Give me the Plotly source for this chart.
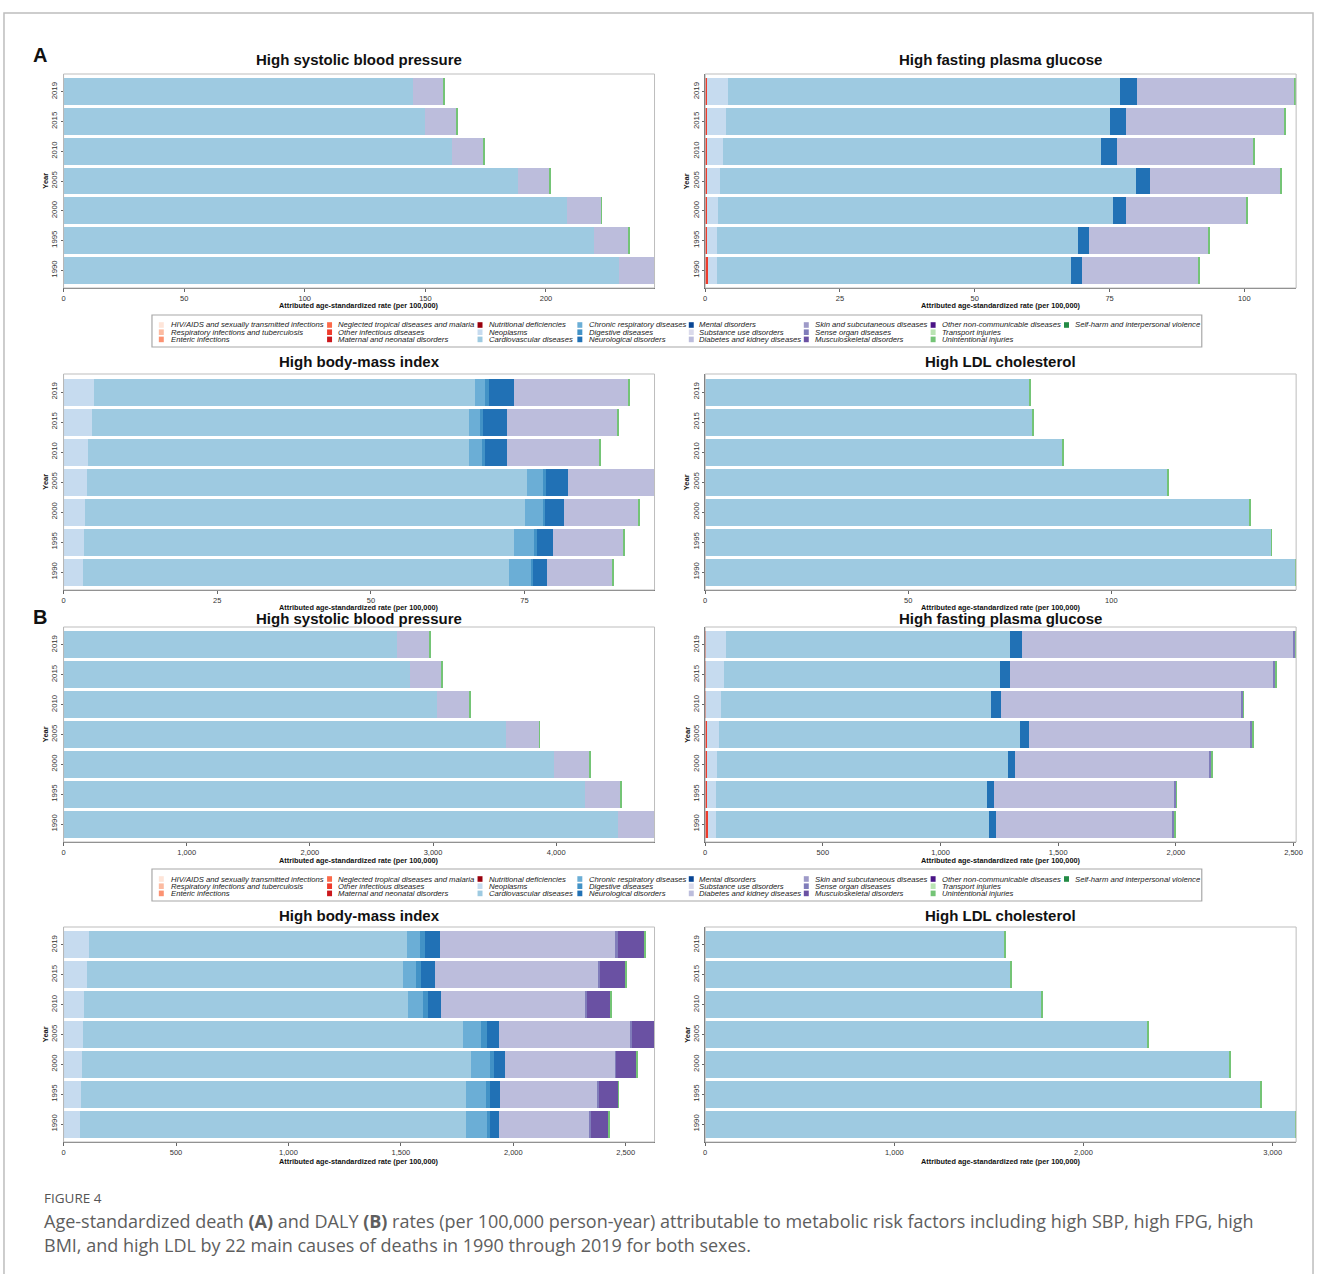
import plotly.graph_objects as go

W, H = 1322, 1274
FONT = "Liberation Sans, Arial, sans-serif"

YEARS = ["1990", "1995", "2000", "2005", "2010", "2015", "2019"]

CAUSES = [
    "HIV/AIDS and sexually transmitted infections",
    "Respiratory infections and tuberculosis",
    "Enteric infections",
    "Neglected tropical diseases and malaria",
    "Other infectious diseases",
    "Maternal and neonatal disorders",
    "Nutritional deficiencies",
    "Neoplasms",
    "Cardiovascular diseases",
    "Chronic respiratory diseases",
    "Digestive diseases",
    "Neurological disorders",
    "Mental disorders",
    "Substance use disorders",
    "Diabetes and kidney diseases",
    "Skin and subcutaneous diseases",
    "Sense organ diseases",
    "Musculoskeletal disorders",
    "Other non-communicable diseases",
    "Transport injuries",
    "Unintentional injuries",
    "Self-harm and interpersonal violence",
]
CAUSE_COLORS = [
    "#FEE5D9", "#FCBBA1", "#FC9272", "#FB6A4A", "#EF3B2C", "#CB181D", "#99000D",
    "#C6DBEF", "#9ECAE1", "#6BAED6", "#4292C6", "#2171B5", "#084594",
    "#DADAEB", "#BCBDDC", "#9E9AC8", "#807DBA", "#6A51A3", "#4A1486",
    "#BAE4B3", "#74C476", "#238B45",
]

# ---- (A) deaths, per 100,000 ; years 1990..2019 ----
sbp_death_cvd = [230.4, 220.0, 208.6, 188.4, 161.0, 150.0, 145.0]
sbp_death_diab = [14.3, 14.2, 14.1, 12.9, 13.1, 12.7, 12.5]
sbp_death_unint = [0.3, 0.3, 0.3, 0.3, 0.3, 0.3, 0.3]

fpg_death_infect = [0.5, 0.4, 0.35, 0.3, 0.3, 0.25, 0.25]
fpg_death_neo = [1.7, 1.8, 2.05, 2.5, 3.0, 3.65, 4.05]
fpg_death_cvd = [65.7, 66.9, 73.3, 77.1, 70.2, 71.2, 72.7]
fpg_death_neuro = [1.9, 2.0, 2.4, 2.6, 2.8, 3.0, 3.1]
fpg_death_diab = [21.7, 22.2, 22.3, 24.3, 25.5, 29.4, 29.3]
fpg_death_unint = [0.2, 0.2, 0.2, 0.2, 0.2, 0.2, 0.2]

bmi_death_neo = [3.1, 3.3, 3.55, 3.75, 4.0, 4.6, 4.96]
bmi_death_cvd = [69.4, 70.0, 71.55, 71.65, 61.9, 61.3, 61.94]
bmi_death_chresp = [3.5, 3.2, 2.9, 2.6, 2.1, 1.8, 1.7]
bmi_death_digest = [0.3, 0.5, 0.4, 0.5, 0.5, 0.5, 0.6]
bmi_death_neuro = [2.4, 2.6, 3.0, 3.5, 3.7, 4.0, 4.1]
bmi_death_diab = [10.6, 11.5, 12.1, 14.0, 14.9, 17.9, 18.5]
bmi_death_unint = [0.15, 0.15, 0.15, 0.15, 0.15, 0.15, 0.15]

ldl_death_cvd = [145.3, 139.4, 134.0, 113.9, 88.0, 80.7, 80.0]
ldl_death_unint = [0.2, 0.2, 0.2, 0.2, 0.2, 0.2, 0.2]

# ---- (B) DALYs, per 100,000 ----
sbp_daly_cvd = [4500, 4234, 3984, 3589, 3032, 2815, 2710]
sbp_daly_diab = [293, 285, 285, 269, 261, 253, 261]
sbp_daly_unint = [5, 5, 5, 5, 5, 5, 5]

fpg_daly_infect = [10, 8, 7, 6, 5, 5, 5]
fpg_daly_neo = [36, 38, 44, 54, 63, 75, 84]
fpg_daly_cvd = [1162, 1152, 1236, 1278, 1147, 1172, 1208]
fpg_daly_neuro = [27, 29, 30, 36, 41, 45, 48]
fpg_daly_diab = [750, 763, 825, 940, 1019, 1114, 1153]
fpg_daly_sense = [12, 12, 10, 12, 12, 14, 12]
fpg_daly_unint = [3, 3, 3, 3, 3, 3, 1]

bmi_daly_neo = [75, 79, 81, 86, 92, 104, 114]
bmi_daly_cvd = [1716, 1712, 1730, 1690, 1440, 1406, 1415]
bmi_daly_chresp = [91, 86, 84, 79, 66, 59, 57]
bmi_daly_digest = [15, 18, 19, 26, 24, 22, 22]
bmi_daly_neuro = [39, 44, 47, 55, 57, 59, 64]
bmi_daly_diab = [401, 433, 490, 581, 638, 727, 782]
bmi_daly_sense = [7, 7, 5, 9, 9, 10, 10]
bmi_daly_musc = [79, 85, 90, 99, 106, 111, 119]
bmi_daly_unint = [3, 3, 3, 3, 3, 3, 3]

ldl_daly_cvd = [3120, 2937, 2774, 2339, 1778, 1615, 1584]
ldl_daly_unint = [4, 4, 4, 4, 4, 4, 4]

# ---- tick values per panel ----
ticks_sbp_death = [0, 50, 100, 150, 200]
ticks_fpg_death = [0, 25, 50, 75, 100]
ticks_bmi_death = [0, 25, 50, 75]
ticks_ldl_death = [0, 50, 100]
ticks_sbp_daly = [0, 1000, 2000, 3000, 4000]
ticks_fpg_daly = [0, 500, 1000, 1500, 2000, 2500]
ticks_bmi_daly = [0, 500, 1000, 1500, 2000, 2500]
ticks_ldl_daly = [0, 1000, 2000, 3000]

# panel boxes in pixels: (left, top, right, bottom)
LEFT_COL = (62, 657)
RIGHT_COL = (708, 1303)
ROWS = [(74, 288), (374, 590), (627, 842), (927, 1142)]
TITLE_Y = [59, 361, 618, 915]
XTITLE_Y = [305, 607, 860, 1161]

panels = [
    ("High systolic blood pressure", LEFT_COL, 0, ticks_sbp_death,
     [("Cardiovascular diseases", sbp_death_cvd),
      ("Diabetes and kidney diseases", sbp_death_diab),
      ("Unintentional injuries", sbp_death_unint)]),
    ("High fasting plasma glucose", RIGHT_COL, 0, ticks_fpg_death,
     [("Other infectious diseases", fpg_death_infect),
      ("Neoplasms", fpg_death_neo),
      ("Cardiovascular diseases", fpg_death_cvd),
      ("Neurological disorders", fpg_death_neuro),
      ("Diabetes and kidney diseases", fpg_death_diab),
      ("Unintentional injuries", fpg_death_unint)]),
    ("High body-mass index", LEFT_COL, 1, ticks_bmi_death,
     [("Neoplasms", bmi_death_neo),
      ("Cardiovascular diseases", bmi_death_cvd),
      ("Chronic respiratory diseases", bmi_death_chresp),
      ("Digestive diseases", bmi_death_digest),
      ("Neurological disorders", bmi_death_neuro),
      ("Diabetes and kidney diseases", bmi_death_diab),
      ("Unintentional injuries", bmi_death_unint)]),
    ("High LDL cholesterol", RIGHT_COL, 1, ticks_ldl_death,
     [("Cardiovascular diseases", ldl_death_cvd),
      ("Unintentional injuries", ldl_death_unint)]),
    ("High systolic blood pressure", LEFT_COL, 2, ticks_sbp_daly,
     [("Cardiovascular diseases", sbp_daly_cvd),
      ("Diabetes and kidney diseases", sbp_daly_diab),
      ("Unintentional injuries", sbp_daly_unint)]),
    ("High fasting plasma glucose", RIGHT_COL, 2, ticks_fpg_daly,
     [("Other infectious diseases", fpg_daly_infect),
      ("Neoplasms", fpg_daly_neo),
      ("Cardiovascular diseases", fpg_daly_cvd),
      ("Neurological disorders", fpg_daly_neuro),
      ("Diabetes and kidney diseases", fpg_daly_diab),
      ("Sense organ diseases", fpg_daly_sense),
      ("Unintentional injuries", fpg_daly_unint)]),
    ("High body-mass index", LEFT_COL, 3, ticks_bmi_daly,
     [("Neoplasms", bmi_daly_neo),
      ("Cardiovascular diseases", bmi_daly_cvd),
      ("Chronic respiratory diseases", bmi_daly_chresp),
      ("Digestive diseases", bmi_daly_digest),
      ("Neurological disorders", bmi_daly_neuro),
      ("Diabetes and kidney diseases", bmi_daly_diab),
      ("Sense organ diseases", bmi_daly_sense),
      ("Musculoskeletal disorders", bmi_daly_musc),
      ("Unintentional injuries", bmi_daly_unint)]),
    ("High LDL cholesterol", RIGHT_COL, 3, ticks_ldl_daly,
     [("Cardiovascular diseases", ldl_daly_cvd),
      ("Unintentional injuries", ldl_daly_unint)]),
]

color_of = dict(zip(CAUSES, CAUSE_COLORS))


def px_x(x):
    return x / W


def px_y(y):
    return 1 - y / H


fig = go.Figure()
layout = {}
shapes = []
annotations = []


def add_text(text, x, y, size, color="#111", bold=False, italic=False,
             xanchor="center", yanchor="middle", angle=0, family=FONT):
    if bold:
        text = f"<b>{text}</b>"
    if italic:
        text = f"<i>{text}</i>"
    annotations.append(dict(
        text=text, x=px_x(x), y=px_y(y), xref="paper", yref="paper",
        xanchor=xanchor, yanchor=yanchor, showarrow=False, textangle=angle,
        borderpad=0, font=dict(size=size, color=color, family=family)))


for i, (title, (xl, xr), row, tickvals, series) in enumerate(panels, start=1):
    yt, yb = ROWS[row]
    xa = "x" if i == 1 else f"x{i}"
    ya = "y" if i == 1 else f"y{i}"
    for cause, vals in series:
        fig.add_trace(go.Bar(
            x=vals, y=YEARS, orientation="h", name=cause,
            marker=dict(color=color_of[cause], line=dict(width=0)),
            xaxis=xa, yaxis=ya, showlegend=False,
        ))
    totals = [sum(v[k] for _, v in series) for k in range(len(YEARS))]
    xmax = max(totals)
    suffix = "" if i == 1 else str(i)
    layout["xaxis" + suffix] = dict(
        domain=[px_x(xl), px_x(xr)], anchor=ya, range=[0, xmax],
        tickvals=tickvals, tickformat=",", showgrid=False, zeroline=False,
        showline=True, linecolor="#666", linewidth=1,
        ticks="outside", ticklen=3, tickwidth=1, tickcolor="#666",
        tickfont=dict(size=7.5, color="#333", family=FONT),
    )
    layout["yaxis" + suffix] = dict(
        domain=[px_y(yb), px_y(yt)], anchor=xa, type="category",
        categoryorder="array", categoryarray=YEARS, range=[-0.6, 6.6],
        showgrid=False, zeroline=False, showline=True, linecolor="#666",
        linewidth=1, ticks="outside", ticklen=2, tickwidth=1, tickcolor="#666",
        tickangle=-90, tickfont=dict(size=7.8, color="#333", family=FONT),
    )
    # panel border
    shapes.append(dict(type="rect", xref=f"{xa} domain", yref=f"{ya} domain",
                       x0=0, x1=1, y0=0, y1=1, layer="above",
                       line=dict(color="#BDBDBD", width=1)))
    cx = (xl + xr) / 2
    add_text(title, cx, TITLE_Y[row], 15, bold=True)
    add_text("Attributed age-standardized rate (per 100,000)", cx,
             XTITLE_Y[row], 7.3, bold=True)
    add_text("Year", xl - 18, (yt + yb) / 2, 7.5, bold=True, angle=-90)

# panel letters
add_text("A", 30, 55, 20, bold=True, xanchor="left")
add_text("B", 30, 617, 20, bold=True, xanchor="left")

# legends
LEG_COLS = [(157.9, 168.7), (327.3, 337.4), (478.8, 489.6), (579.3, 589.7),
            (691.5, 700.5), (807.3, 817.7), (935.0, 945.0), (1069.3, 1079.0)]
LEG_ROW_DY = [10.0, 17.2, 24.4]
for top in (315, 869):
    shapes.append(dict(type="rect", xref="paper", yref="paper",
                       x0=px_x(151), x1=px_x(1208), y0=px_y(top + 32), y1=px_y(top),
                       line=dict(color="#A8A8A8", width=1.2), fillcolor="white",
                       layer="below"))
    for k, (cause, col) in enumerate(zip(CAUSES, CAUSE_COLORS)):
        c, r = divmod(k, 3)
        sx, tx = LEG_COLS[c]
        cy = top + LEG_ROW_DY[r]
        shapes.append(dict(type="rect", xref="paper", yref="paper",
                           x0=px_x(sx), x1=px_x(sx + 5), y0=px_y(cy + 2.8),
                           y1=px_y(cy - 2.8), line=dict(width=0), fillcolor=col))
        add_text(cause, tx, cy, 7.7, color="#222", italic=True, xanchor="left")

# outer frame
shapes.append(dict(type="path", xref="paper", yref="paper",
                   path=f"M {px_x(2)},{px_y(1274)} L {px_x(2)},{px_y(13)} "
                        f"L {px_x(1320)},{px_y(13)} L {px_x(1320)},{px_y(1274)}",
                   line=dict(color="#BDBDBD", width=1.5)))

# caption
CAP_FONT = "Open Sans, Noto Sans, sans-serif"
add_text("FIGURE 4", 41, 1198, 13.5, color="#555", xanchor="left", family=CAP_FONT)
add_text("Age-standardized death <b>(A)</b> and DALY <b>(B)</b> rates (per 100,000 person-year) "
         "attributable to metabolic risk factors including high SBP, high FPG, high",
         41, 1221, 18, color="#5E5E5E", xanchor="left", family=CAP_FONT)
add_text("BMI, and high LDL by 22 main causes of deaths in 1990 through 2019 for both sexes.",
         41, 1245, 18, color="#5E5E5E", xanchor="left", family=CAP_FONT)

fig.update_layout(
    width=W, height=H, margin=dict(l=0, r=0, t=0, b=0),
    paper_bgcolor="white", plot_bgcolor="white",
    barmode="stack", bargap=0.1, showlegend=False,
    shapes=shapes, annotations=annotations, **layout,
)

fig.write_html("out.html")
